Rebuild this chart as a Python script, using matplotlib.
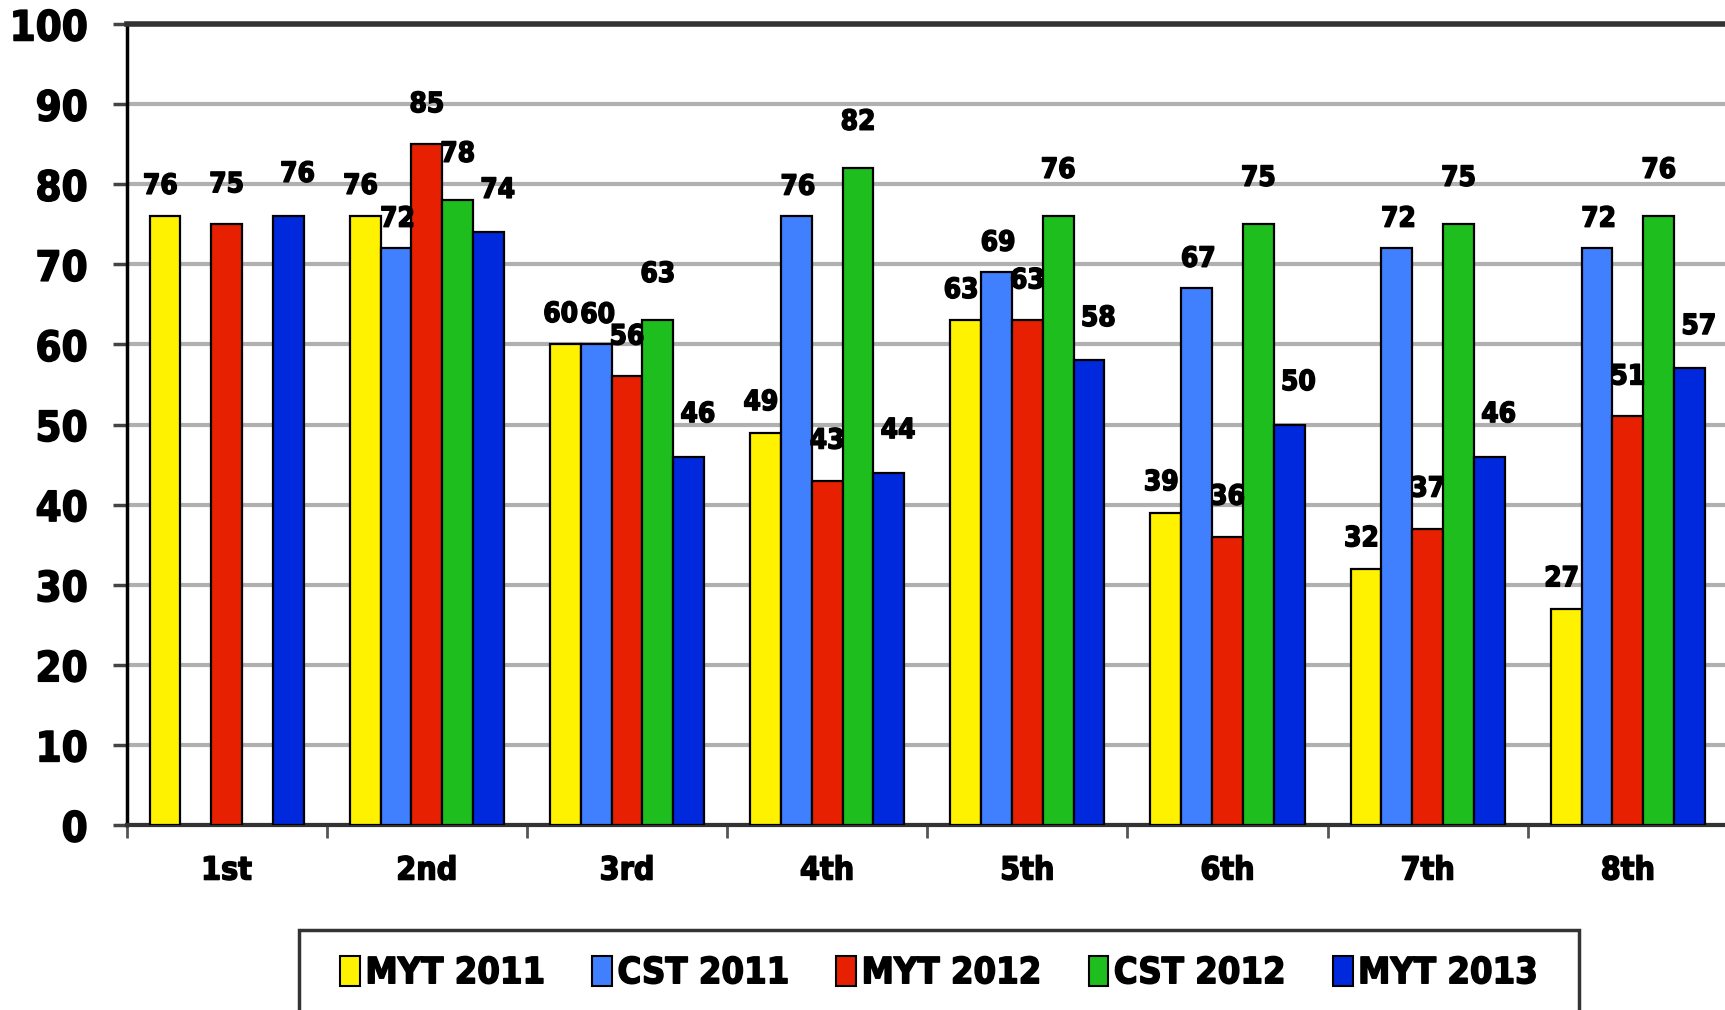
import numpy as np
import matplotlib
matplotlib.use("Agg")
import matplotlib.pyplot as plt
from matplotlib.patches import Rectangle, Patch
import matplotlib.patheffects as pe

categories = ["1st", "2nd", "3rd", "4th", "5th", "6th", "7th", "8th"]
series_names = ["MYT 2011", "CST 2011", "MYT 2012", "CST 2012", "MYT 2013"]
myt_2011 = [76, 76, 60, 49, 63, 39, 32, 27]
cst_2011 = [np.nan, 72, 60, 76, 69, 67, 72, 72]
myt_2012 = [75, 85, 56, 43, 63, 36, 37, 51]
cst_2012 = [np.nan, 78, 63, 82, 76, 75, 75, 76]
myt_2013 = [76, 74, 46, 44, 58, 50, 46, 57]
yticks = list(range(0, 101, 10))

series = [myt_2011, cst_2011, myt_2012, cst_2012, myt_2013]
colors = ["#FFF200", "#4080FF", "#E62000", "#1EBE1E", "#0028DC"]
label_dy = [3.8, 3.7, 5.0, 5.8, 5.3]
label_dx = [-0.15, 0.05, 0.0, 0.0, 0.3]

W, H = 1725, 1010
fig = plt.figure(figsize=(W / 100, H / 100), dpi=100)
left, right, top, bottom = 126.5, 1729, 24, 825
ax = fig.add_axes([left / W, (H - bottom) / H, (right - left) / W, (bottom - top) / H])

font = dict(family="DejaVu Sans", fontweight="bold", fontstretch="condensed")
heavy = [pe.withStroke(linewidth=1.1, foreground="black")]

bw = 0.154
x = np.arange(len(categories))
for i, (vals, c) in enumerate(zip(series, colors)):
    offs = (i - 2) * bw
    ax.bar(x + offs, vals, width=bw, color=c, edgecolor="black", linewidth=1.6, zorder=3)
    for xi, v in zip(x, vals):
        if np.isnan(v):
            continue
        ax.text(xi + offs + label_dx[i] * bw, v + label_dy[i], f"{v:g}", ha="center", va="center",
                fontsize=20, color="black", zorder=4, path_effects=heavy, **font)

ax.set_ylim(0, 100)
ax.set_xlim(-0.5, 7.5 + 0.005)
ax.set_yticks(yticks)
ax.set_yticklabels([str(t) for t in yticks], fontsize=30, path_effects=heavy, **font)
ax.set_xticks(x)
ax.set_xticklabels(categories, fontsize=23, path_effects=heavy, **font)
ax.set_xticks(np.arange(-0.5, 8.0, 1.0), minor=True)
ax.tick_params(axis="x", which="major", length=0, pad=22)
ax.tick_params(axis="x", which="minor", length=9, width=2, color="#555555", direction="out")
ax.tick_params(axis="y", length=10, width=2.5, color="#444444", pad=18)

ax.yaxis.grid(True, color="#B0B0B0", linewidth=3, zorder=0)
ax.set_axisbelow(True)
ax.spines["left"].set_linewidth(2.5)
ax.spines["left"].set_color("black")
ax.spines["bottom"].set_linewidth(3)
ax.spines["bottom"].set_color("#333333")
ax.spines["top"].set_linewidth(4)
ax.spines["top"].set_color("#333333")
ax.spines["right"].set_visible(False)

# legend box
fig.patches.append(Rectangle((299 / W, -0.05), (1579 - 299) / W, (H - 930) / H + 0.05,
                             transform=fig.transFigure, facecolor="white", edgecolor="#333333",
                             linewidth=2.5, zorder=1))
handles = [Patch(facecolor=c, edgecolor="black", linewidth=1.5) for c in colors]
leg = fig.legend(handles, series_names, loc="center", bbox_to_anchor=(939 / W, (H - 973) / H),
                 ncol=5, frameon=False, prop=dict(family="DejaVu Sans", weight="bold", stretch="condensed", size=26),
                 handlelength=0.55, handleheight=0.9, handletextpad=0.15, columnspacing=1.3)
for t in leg.get_texts():
    t.set_path_effects(heavy)
leg.set_zorder(5)

fig.savefig("out.png", dpi=100)
